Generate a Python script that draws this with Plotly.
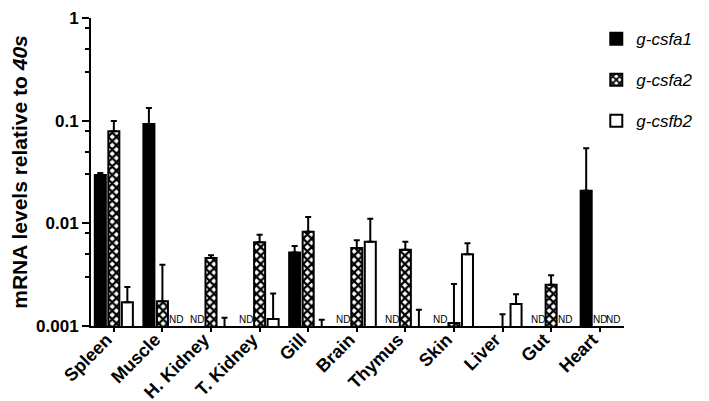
import plotly.graph_objects as go

tejidos = ["Spleen", "Muscle", "H. Kidney", "T. Kidney", "Gill", "Brain",
           "Thymus", "Skin", "Liver", "Gut", "Heart"]

# None = ND (no detectado)
csfa1 = [0.0295, 0.093, None, None, 0.0052, None, None, None, 0.0005, None, 0.0208]
csfa1_err = [0.0015, 0.040, None, None, 0.0008, None, None, None, 0, None, 0.033]

csfa2 = [0.079, 0.00174, 0.0046, 0.00653, 0.0083, 0.00574, 0.00553, 0.00107, 0.0008, 0.00252, None]
csfa2_err = [0.020, 0.0022, 0.0003, 0.0012, 0.0032, 0.0011, 0.0011, 0.0015, 0.0005, 0.0006, None]

csfb2 = [0.0017, None, 0.0008, 0.00117, 0.0008, 0.0066, 0.0008, 0.00499, 0.00164, None, None]
csfb2_err = [0.0007, None, 0.0004, 0.0009, 0.00035, 0.0045, 0.00064, 0.0014, 0.0004, None, None]

FUENTE = "Arial, Liberation Sans, sans-serif"
BARGAP = 0.165
series = [
    ("g-csfa1", csfa1, csfa1_err, "black", ""),
    ("g-csfa2", csfa2, csfa2_err, "white", "x"),
    ("g-csfb2", csfb2, csfb2_err, "white", ""),
]

fig = go.Figure()
posiciones = list(range(len(tejidos)))
for i, (nombre, vals, errs, color, patron) in enumerate(series):
    fig.add_trace(go.Bar(
        x=posiciones,
        y=vals,
        name=nombre,
        legendgroup=nombre,
        marker=dict(color=color, line=dict(color="black", width=2),
                    pattern=dict(shape=patron, fgcolor="black", bgcolor="white",
                                 size=6, solidity=0.6)),
        error_y=dict(type="data", array=errs, arrayminus=[0] * len(errs),
                     symmetric=False, color="black", thickness=2, width=3),
    ))

# etiquetas ND
slot = (1 - BARGAP) / 3
anotaciones = []
for i, (nombre, vals, errs, color, patron) in enumerate(series):
    for j, v in enumerate(vals):
        if v is None:
            anotaciones.append(dict(
                x=j + (i - 1) * slot, y=-2.94, xref="x", yref="y", text="ND",
                showarrow=False, font=dict(family=FUENTE, size=10, color="black"),
            ))

fig.update_layout(
    template="none",
    width=709, height=401,
    margin=dict(l=83, r=93, t=10, b=83),
    paper_bgcolor="white", plot_bgcolor="white",
    font=dict(family=FUENTE, color="black"),
    barmode="group", bargap=BARGAP, bargroupgap=0.185,
    showlegend=True,
    legend=dict(x=0.948, y=0.99, xanchor="left", yanchor="top",
                font=dict(family=FUENTE, size=17, style="italic"),
                tracegroupgap=16, bgcolor="rgba(0,0,0,0)"),
    annotations=anotaciones,
)
# espacios duros al final para acercar el texto girado a su marca
fig.update_xaxes(
    range=[-0.47, 10.5], tickmode="array", tickvals=posiciones,
    ticktext=[t + "\u00a0\u00a0" for t in tejidos],
    tickangle=-45, tickfont=dict(family=FUENTE, size=18, weight="bold"),
    ticklabelstandoff=-17,
    showline=True, linecolor="black", linewidth=2, ticks="outside", ticklen=4,
    tickwidth=2, tickcolor="black", showgrid=False, zeroline=False, automargin=False,
)
fig.update_yaxes(
    type="log", range=[-3, 0], tickmode="array", tickvals=[0.001, 0.01, 0.1, 1],
    ticktext=["0.001", "0.01", "0.1", "1"],
    tickfont=dict(family=FUENTE, size=17, weight="bold"),
    showline=True, linecolor="black", linewidth=2, ticks="outside", ticklen=7,
    tickwidth=2, tickcolor="black", showgrid=False, zeroline=False, automargin=False,
    minor=dict(tickmode="array",
               tickvals=[0.003, 0.005, 0.008, 0.03, 0.05, 0.08, 0.3, 0.5, 0.8],
               ticks="outside", ticklen=4, tickwidth=2, tickcolor="black", showgrid=False),
    title=dict(text="mRNA levels relative to <i>40s</i>", standoff=4,
               font=dict(family=FUENTE, size=21, weight="bold")),
)

fig.write_html("out.html")
